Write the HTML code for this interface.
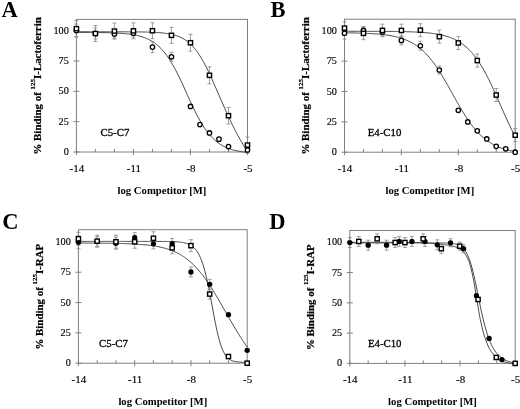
<!DOCTYPE html>
<html><head><meta charset="utf-8"><style>
html,body{margin:0;padding:0;background:#fff;}
body{width:520px;height:409px;overflow:hidden;}
svg{display:block;filter:blur(0.3px);}
.t{font-family:"Liberation Serif",serif;font-size:11px;fill:#000;stroke:#000;stroke-width:0.15px;}
.s{font-family:"Liberation Serif",serif;font-size:10.8px;fill:#000;stroke:#000;stroke-width:0.3px;}
.b{font-family:"Liberation Serif",serif;font-size:10.7px;font-weight:bold;fill:#000;}
.yt{font-family:"Liberation Serif",serif;font-size:10.9px;font-weight:bold;fill:#000;stroke:#000;stroke-width:0.2px;}
.sup{font-size:7px;}
.L{font-family:"Liberation Serif",serif;font-size:22.5px;font-weight:bold;fill:#000;}
</style></head><body>
<svg width="520" height="409" viewBox="0 0 520 409">
<rect width="520" height="409" fill="#fff"/>
<rect x="76.40" y="19.40" width="171.10" height="132.60" fill="none" stroke="#808080" stroke-width="1"/>
<line x1="73.40" x2="79.40" y1="152.00" y2="152.00" stroke="#808080" stroke-width="1"/>
<text transform="translate(68.80,155.00) scale(0.93,1)" text-anchor="end" class="t">0</text>
<line x1="73.40" x2="79.40" y1="121.65" y2="121.65" stroke="#808080" stroke-width="1"/>
<text transform="translate(68.80,124.65) scale(0.93,1)" text-anchor="end" class="t">25</text>
<line x1="73.40" x2="79.40" y1="91.30" y2="91.30" stroke="#808080" stroke-width="1"/>
<text transform="translate(68.80,94.30) scale(0.93,1)" text-anchor="end" class="t">50</text>
<line x1="73.40" x2="79.40" y1="60.95" y2="60.95" stroke="#808080" stroke-width="1"/>
<text transform="translate(68.80,63.95) scale(0.93,1)" text-anchor="end" class="t">75</text>
<line x1="73.40" x2="79.40" y1="30.60" y2="30.60" stroke="#808080" stroke-width="1"/>
<text transform="translate(68.80,33.60) scale(0.93,1)" text-anchor="end" class="t">100</text>
<line x1="76.40" x2="76.40" y1="149.00" y2="155.00" stroke="#808080" stroke-width="1"/>
<text x="76.90" y="171.50" text-anchor="middle" class="t">-14</text>
<line x1="95.41" x2="95.41" y1="149.00" y2="152.00" stroke="#808080" stroke-width="1"/>
<line x1="114.42" x2="114.42" y1="149.00" y2="152.00" stroke="#808080" stroke-width="1"/>
<line x1="133.43" x2="133.43" y1="149.00" y2="155.00" stroke="#808080" stroke-width="1"/>
<text x="133.93" y="171.50" text-anchor="middle" class="t">-11</text>
<line x1="152.44" x2="152.44" y1="149.00" y2="152.00" stroke="#808080" stroke-width="1"/>
<line x1="171.46" x2="171.46" y1="149.00" y2="152.00" stroke="#808080" stroke-width="1"/>
<line x1="190.47" x2="190.47" y1="149.00" y2="155.00" stroke="#808080" stroke-width="1"/>
<text x="190.97" y="171.50" text-anchor="middle" class="t">-8</text>
<line x1="209.48" x2="209.48" y1="149.00" y2="152.00" stroke="#808080" stroke-width="1"/>
<line x1="228.49" x2="228.49" y1="149.00" y2="152.00" stroke="#808080" stroke-width="1"/>
<line x1="247.50" x2="247.50" y1="149.00" y2="155.00" stroke="#808080" stroke-width="1"/>
<text x="248.00" y="171.50" text-anchor="middle" class="t">-5</text>
<polyline points="76.40,32.37 77.35,32.37 78.30,32.37 79.25,32.37 80.20,32.38 81.15,32.38 82.10,32.39 83.05,32.39 84.00,32.39 84.95,32.40 85.91,32.40 86.86,32.41 87.81,32.42 88.76,32.42 89.71,32.43 90.66,32.44 91.61,32.44 92.56,32.45 93.51,32.46 94.46,32.47 95.41,32.48 96.36,32.49 97.31,32.50 98.26,32.52 99.21,32.53 100.16,32.55 101.11,32.56 102.06,32.58 103.02,32.60 103.97,32.62 104.92,32.64 105.87,32.66 106.82,32.68 107.77,32.71 108.72,32.74 109.67,32.76 110.62,32.80 111.57,32.83 112.52,32.87 113.47,32.90 114.42,32.95 115.37,32.99 116.32,33.04 117.27,33.09 118.22,33.14 119.18,33.20 120.13,33.26 121.08,33.33 122.03,33.40 122.98,33.48 123.93,33.56 124.88,33.65 125.83,33.74 126.78,33.84 127.73,33.95 128.68,34.07 129.63,34.19 130.58,34.32 131.53,34.46 132.48,34.61 133.43,34.77 134.38,34.95 135.33,35.13 136.29,35.33 137.24,35.54 138.19,35.76 139.14,36.00 140.09,36.26 141.04,36.53 141.99,36.82 142.94,37.13 143.89,37.46 144.84,37.82 145.79,38.19 146.74,38.59 147.69,39.02 148.64,39.47 149.59,39.96 150.54,40.47 151.49,41.01 152.44,41.59 153.40,42.20 154.35,42.85 155.30,43.54 156.25,44.27 157.20,45.04 158.15,45.85 159.10,46.71 160.05,47.61 161.00,48.56 161.95,49.57 162.90,50.62 163.85,51.73 164.80,52.89 165.75,54.10 166.70,55.37 167.65,56.70 168.60,58.08 169.55,59.52 170.50,61.01 171.46,62.56 172.41,64.17 173.36,65.83 174.31,67.54 175.26,69.30 176.21,71.11 177.16,72.97 178.11,74.87 179.06,76.81 180.01,78.79 180.96,80.80 181.91,82.84 182.86,84.90 183.81,86.98 184.76,89.08 185.71,91.18 186.66,93.29 187.62,95.40 188.57,97.51 189.52,99.60 190.47,101.68 191.42,103.74 192.37,105.77 193.32,107.77 194.27,109.74 195.22,111.67 196.17,113.57 197.12,115.41 198.07,117.21 199.02,118.97 199.97,120.67 200.92,122.32 201.87,123.91 202.82,125.45 203.77,126.93 204.72,128.36 205.68,129.73 206.63,131.04 207.58,132.30 208.53,133.50 209.48,134.65 210.43,135.75 211.38,136.79 212.33,137.78 213.28,138.72 214.23,139.62 215.18,140.47 216.13,141.27 217.08,142.03 218.03,142.75 218.98,143.43 219.93,144.07 220.88,144.67 221.84,145.24 222.79,145.78 223.74,146.29 224.69,146.76 225.64,147.21 226.59,147.63 227.54,148.03 228.49,148.40 229.44,148.75 230.39,149.07 231.34,149.38 232.29,149.67 233.24,149.94 234.19,150.19 235.14,150.43 236.09,150.65 237.04,150.85 237.99,151.05 238.94,151.23 239.90,151.40 240.85,151.56 241.80,151.71 242.75,151.85 243.70,151.98 244.65,152.10 245.60,152.21 246.55,152.32 247.50,152.42" fill="none" stroke="#333" stroke-width="0.9"/>
<polyline points="76.40,31.78 77.35,31.78 78.30,31.78 79.25,31.78 80.20,31.78 81.15,31.78 82.10,31.78 83.05,31.78 84.00,31.78 84.95,31.78 85.91,31.78 86.86,31.78 87.81,31.78 88.76,31.78 89.71,31.78 90.66,31.78 91.61,31.78 92.56,31.78 93.51,31.78 94.46,31.78 95.41,31.78 96.36,31.78 97.31,31.78 98.26,31.78 99.21,31.78 100.16,31.78 101.11,31.78 102.06,31.78 103.02,31.78 103.97,31.79 104.92,31.79 105.87,31.79 106.82,31.79 107.77,31.79 108.72,31.79 109.67,31.79 110.62,31.79 111.57,31.79 112.52,31.79 113.47,31.79 114.42,31.79 115.37,31.80 116.32,31.80 117.27,31.80 118.22,31.80 119.18,31.80 120.13,31.81 121.08,31.81 122.03,31.81 122.98,31.81 123.93,31.82 124.88,31.82 125.83,31.82 126.78,31.83 127.73,31.83 128.68,31.84 129.63,31.84 130.58,31.85 131.53,31.85 132.48,31.86 133.43,31.87 134.38,31.87 135.33,31.88 136.29,31.89 137.24,31.90 138.19,31.91 139.14,31.92 140.09,31.94 141.04,31.95 141.99,31.97 142.94,31.98 143.89,32.00 144.84,32.02 145.79,32.04 146.74,32.06 147.69,32.09 148.64,32.12 149.59,32.15 150.54,32.18 151.49,32.21 152.44,32.25 153.40,32.30 154.35,32.34 155.30,32.39 156.25,32.44 157.20,32.50 158.15,32.57 159.10,32.64 160.05,32.71 161.00,32.79 161.95,32.88 162.90,32.98 163.85,33.09 164.80,33.20 165.75,33.32 166.70,33.46 167.65,33.60 168.60,33.76 169.55,33.93 170.50,34.12 171.46,34.32 172.41,34.54 173.36,34.78 174.31,35.03 175.26,35.31 176.21,35.61 177.16,35.94 178.11,36.28 179.06,36.66 180.01,37.07 180.96,37.51 181.91,37.98 182.86,38.48 183.81,39.03 184.76,39.61 185.71,40.23 186.66,40.90 187.62,41.62 188.57,42.38 189.52,43.20 190.47,44.07 191.42,44.99 192.37,45.96 193.32,47.00 194.27,48.09 195.22,49.25 196.17,50.47 197.12,51.75 198.07,53.09 199.02,54.49 199.97,55.96 200.92,57.49 201.87,59.08 202.82,60.73 203.77,62.44 204.72,64.20 205.68,66.02 206.63,67.89 207.58,69.81 208.53,71.77 209.48,73.77 210.43,75.81 211.38,77.88 212.33,79.98 213.28,82.11 214.23,84.26 215.18,86.43 216.13,88.61 217.08,90.80 218.03,93.00 218.98,95.20 219.93,97.39 220.88,99.59 221.84,101.77 222.79,103.95 223.74,106.11 224.69,108.25 225.64,110.38 226.59,112.49 227.54,114.57 228.49,116.64 229.44,118.67 230.39,120.68 231.34,122.66 232.29,124.61 233.24,126.54 234.19,128.43 235.14,130.29 236.09,132.12 237.04,133.92 237.99,135.68 238.94,137.41 239.90,139.11 240.85,140.78 241.80,142.42 242.75,144.02 243.70,145.59 244.65,147.13 245.60,148.64 246.55,150.11 247.50,151.56" fill="none" stroke="#333" stroke-width="0.9"/>
<path d="M76.40 24.10V37.10M74.40 24.10h4M74.40 37.10h4" stroke="#888" stroke-width="0.8" fill="none"/>
<path d="M95.41 28.01V39.01M93.41 28.01h4M93.41 39.01h4" stroke="#888" stroke-width="0.8" fill="none"/>
<path d="M114.42 30.00V38.00M112.42 30.00h4M112.42 38.00h4" stroke="#888" stroke-width="0.8" fill="none"/>
<path d="M133.43 29.15V37.15M131.43 29.15h4M131.43 37.15h4" stroke="#888" stroke-width="0.8" fill="none"/>
<path d="M152.44 41.61V52.61M150.44 41.61h4M150.44 52.61h4" stroke="#888" stroke-width="0.8" fill="none"/>
<path d="M171.46 52.32V61.32M169.46 52.32h4M169.46 61.32h4" stroke="#888" stroke-width="0.8" fill="none"/>
<path d="M76.40 20.66V36.66M74.40 20.66h4M74.40 36.66h4" stroke="#888" stroke-width="0.8" fill="none"/>
<path d="M95.41 25.51V41.51M93.41 25.51h4M93.41 41.51h4" stroke="#888" stroke-width="0.8" fill="none"/>
<path d="M114.42 23.09V39.09M112.42 23.09h4M112.42 39.09h4" stroke="#888" stroke-width="0.8" fill="none"/>
<path d="M133.43 22.84V38.84M131.43 22.84h4M131.43 38.84h4" stroke="#888" stroke-width="0.8" fill="none"/>
<path d="M152.44 22.72V38.72M150.44 22.72h4M150.44 38.72h4" stroke="#888" stroke-width="0.8" fill="none"/>
<path d="M171.46 27.33V43.33M169.46 27.33h4M169.46 43.33h4" stroke="#888" stroke-width="0.8" fill="none"/>
<path d="M190.47 34.24V51.24M188.47 34.24h4M188.47 51.24h4" stroke="#888" stroke-width="0.8" fill="none"/>
<path d="M209.48 66.78V83.78M207.48 66.78h4M207.48 83.78h4" stroke="#888" stroke-width="0.8" fill="none"/>
<path d="M228.49 107.40V124.00M226.49 107.40h4M226.49 124.00h4" stroke="#888" stroke-width="0.8" fill="none"/>
<path d="M247.50 137.08V153.08M245.50 137.08h4M245.50 153.08h4" stroke="#888" stroke-width="0.8" fill="none"/>
<circle cx="76.40" cy="30.60" r="2.2" fill="#fff" stroke="#000" stroke-width="1.3"/>
<circle cx="95.41" cy="33.51" r="2.2" fill="#fff" stroke="#000" stroke-width="1.3"/>
<circle cx="114.42" cy="34.00" r="2.2" fill="#fff" stroke="#000" stroke-width="1.3"/>
<circle cx="133.43" cy="33.15" r="2.2" fill="#fff" stroke="#000" stroke-width="1.3"/>
<circle cx="152.44" cy="47.11" r="2.2" fill="#fff" stroke="#000" stroke-width="1.3"/>
<circle cx="171.46" cy="56.82" r="2.2" fill="#fff" stroke="#000" stroke-width="1.3"/>
<circle cx="190.47" cy="106.47" r="2.2" fill="#fff" stroke="#000" stroke-width="1.3"/>
<circle cx="199.97" cy="124.56" r="2.2" fill="#fff" stroke="#000" stroke-width="1.3"/>
<circle cx="209.48" cy="132.94" r="2.2" fill="#fff" stroke="#000" stroke-width="1.3"/>
<circle cx="218.98" cy="139.13" r="2.2" fill="#fff" stroke="#000" stroke-width="1.3"/>
<circle cx="228.49" cy="146.54" r="2.2" fill="#fff" stroke="#000" stroke-width="1.3"/>
<circle cx="247.50" cy="149.94" r="2.2" fill="#fff" stroke="#000" stroke-width="1.3"/>
<rect x="74.30" y="26.56" width="4.2" height="4.2" fill="#fff" stroke="#000" stroke-width="1.4"/>
<rect x="93.31" y="31.41" width="4.2" height="4.2" fill="#fff" stroke="#000" stroke-width="1.4"/>
<rect x="112.32" y="28.99" width="4.2" height="4.2" fill="#fff" stroke="#000" stroke-width="1.4"/>
<rect x="131.33" y="28.74" width="4.2" height="4.2" fill="#fff" stroke="#000" stroke-width="1.4"/>
<rect x="150.34" y="28.62" width="4.2" height="4.2" fill="#fff" stroke="#000" stroke-width="1.4"/>
<rect x="169.36" y="33.23" width="4.2" height="4.2" fill="#fff" stroke="#000" stroke-width="1.4"/>
<rect x="188.37" y="40.64" width="4.2" height="4.2" fill="#fff" stroke="#000" stroke-width="1.4"/>
<rect x="207.38" y="73.18" width="4.2" height="4.2" fill="#fff" stroke="#000" stroke-width="1.4"/>
<rect x="226.39" y="113.60" width="4.2" height="4.2" fill="#fff" stroke="#000" stroke-width="1.4"/>
<rect x="245.40" y="142.98" width="4.2" height="4.2" fill="#fff" stroke="#000" stroke-width="1.4"/>
<text x="1.50" y="16.80" class="L">A</text>
<text x="100.50" y="136.20" class="s">C5-C7</text>
<text x="161.95" y="194.00" text-anchor="middle" class="b">log Competitor [M]</text>
<text transform="translate(41.00,85.90) rotate(-90)" text-anchor="middle" class="yt">% Binding of <tspan class="sup" dy="-6.5">125</tspan><tspan dy="6.5">I-Lactoferrin</tspan></text>
<rect x="344.50" y="19.20" width="170.70" height="133.00" fill="none" stroke="#808080" stroke-width="1"/>
<line x1="341.50" x2="347.50" y1="152.20" y2="152.20" stroke="#808080" stroke-width="1"/>
<text transform="translate(336.90,155.20) scale(0.93,1)" text-anchor="end" class="t">0</text>
<line x1="341.50" x2="347.50" y1="121.85" y2="121.85" stroke="#808080" stroke-width="1"/>
<text transform="translate(336.90,124.85) scale(0.93,1)" text-anchor="end" class="t">25</text>
<line x1="341.50" x2="347.50" y1="91.50" y2="91.50" stroke="#808080" stroke-width="1"/>
<text transform="translate(336.90,94.50) scale(0.93,1)" text-anchor="end" class="t">50</text>
<line x1="341.50" x2="347.50" y1="61.15" y2="61.15" stroke="#808080" stroke-width="1"/>
<text transform="translate(336.90,64.15) scale(0.93,1)" text-anchor="end" class="t">75</text>
<line x1="341.50" x2="347.50" y1="30.80" y2="30.80" stroke="#808080" stroke-width="1"/>
<text transform="translate(336.90,33.80) scale(0.93,1)" text-anchor="end" class="t">100</text>
<line x1="344.50" x2="344.50" y1="149.20" y2="155.20" stroke="#808080" stroke-width="1"/>
<text x="345.00" y="171.70" text-anchor="middle" class="t">-14</text>
<line x1="363.47" x2="363.47" y1="149.20" y2="152.20" stroke="#808080" stroke-width="1"/>
<line x1="382.43" x2="382.43" y1="149.20" y2="152.20" stroke="#808080" stroke-width="1"/>
<line x1="401.40" x2="401.40" y1="149.20" y2="155.20" stroke="#808080" stroke-width="1"/>
<text x="401.90" y="171.70" text-anchor="middle" class="t">-11</text>
<line x1="420.37" x2="420.37" y1="149.20" y2="152.20" stroke="#808080" stroke-width="1"/>
<line x1="439.33" x2="439.33" y1="149.20" y2="152.20" stroke="#808080" stroke-width="1"/>
<line x1="458.30" x2="458.30" y1="149.20" y2="155.20" stroke="#808080" stroke-width="1"/>
<text x="458.80" y="171.70" text-anchor="middle" class="t">-8</text>
<line x1="477.27" x2="477.27" y1="149.20" y2="152.20" stroke="#808080" stroke-width="1"/>
<line x1="496.23" x2="496.23" y1="149.20" y2="152.20" stroke="#808080" stroke-width="1"/>
<line x1="515.20" x2="515.20" y1="149.20" y2="155.20" stroke="#808080" stroke-width="1"/>
<text x="515.70" y="171.70" text-anchor="middle" class="t">-5</text>
<polyline points="344.50,32.81 345.45,32.82 346.40,32.83 347.35,32.84 348.29,32.86 349.24,32.87 350.19,32.89 351.14,32.90 352.09,32.92 353.03,32.94 353.98,32.96 354.93,32.98 355.88,33.00 356.83,33.03 357.78,33.05 358.73,33.08 359.67,33.10 360.62,33.13 361.57,33.16 362.52,33.20 363.47,33.23 364.42,33.27 365.36,33.30 366.31,33.34 367.26,33.39 368.21,33.43 369.16,33.48 370.11,33.53 371.05,33.58 372.00,33.64 372.95,33.70 373.90,33.76 374.85,33.83 375.80,33.90 376.74,33.97 377.69,34.05 378.64,34.14 379.59,34.22 380.54,34.31 381.49,34.41 382.43,34.52 383.38,34.62 384.33,34.74 385.28,34.86 386.23,34.99 387.18,35.12 388.12,35.27 389.07,35.42 390.02,35.57 390.97,35.74 391.92,35.92 392.87,36.11 393.81,36.30 394.76,36.51 395.71,36.73 396.66,36.96 397.61,37.20 398.56,37.45 399.50,37.72 400.45,38.00 401.40,38.30 402.35,38.61 403.30,38.94 404.25,39.29 405.19,39.65 406.14,40.04 407.09,40.44 408.04,40.86 408.99,41.30 409.94,41.77 410.88,42.26 411.83,42.77 412.78,43.30 413.73,43.86 414.68,44.45 415.62,45.07 416.57,45.71 417.52,46.38 418.47,47.08 419.42,47.81 420.37,48.58 421.32,49.37 422.26,50.20 423.21,51.06 424.16,51.96 425.11,52.89 426.06,53.86 427.01,54.86 427.95,55.90 428.90,56.98 429.85,58.09 430.80,59.24 431.75,60.43 432.70,61.65 433.64,62.91 434.59,64.21 435.54,65.54 436.49,66.91 437.44,68.31 438.38,69.74 439.33,71.21 440.28,72.70 441.23,74.23 442.18,75.78 443.13,77.36 444.08,78.96 445.02,80.58 445.97,82.22 446.92,83.88 447.87,85.55 448.82,87.24 449.77,88.94 450.71,90.64 451.66,92.35 452.61,94.06 453.56,95.76 454.51,97.47 455.46,99.17 456.40,100.86 457.35,102.54 458.30,104.20 459.25,105.85 460.20,107.48 461.15,109.08 462.09,110.67 463.04,112.23 463.99,113.76 464.94,115.27 465.89,116.74 466.84,118.19 467.78,119.60 468.73,120.98 469.68,122.32 470.63,123.63 471.58,124.90 472.53,126.13 473.47,127.33 474.42,128.50 475.37,129.62 476.32,130.71 477.27,131.76 478.22,132.78 479.16,133.76 480.11,134.70 481.06,135.61 482.01,136.48 482.96,137.32 483.91,138.13 484.85,138.90 485.80,139.64 486.75,140.35 487.70,141.03 488.65,141.69 489.60,142.31 490.54,142.91 491.49,143.48 492.44,144.02 493.39,144.54 494.34,145.03 495.29,145.51 496.23,145.96 497.18,146.38 498.13,146.79 499.08,147.18 500.03,147.55 500.98,147.90 501.92,148.24 502.87,148.56 503.82,148.86 504.77,149.15 505.72,149.42 506.67,149.68 507.61,149.92 508.56,150.16 509.51,150.38 510.46,150.59 511.41,150.79 512.36,150.98 513.30,151.16 514.25,151.33 515.20,151.49" fill="none" stroke="#333" stroke-width="0.9"/>
<polyline points="344.50,31.28 345.45,31.29 346.40,31.29 347.35,31.29 348.29,31.29 349.24,31.29 350.19,31.29 351.14,31.29 352.09,31.29 353.03,31.29 353.98,31.29 354.93,31.29 355.88,31.29 356.83,31.30 357.78,31.30 358.73,31.30 359.67,31.30 360.62,31.30 361.57,31.30 362.52,31.30 363.47,31.31 364.42,31.31 365.36,31.31 366.31,31.31 367.26,31.31 368.21,31.32 369.16,31.32 370.11,31.32 371.05,31.32 372.00,31.33 372.95,31.33 373.90,31.33 374.85,31.34 375.80,31.34 376.74,31.34 377.69,31.35 378.64,31.35 379.59,31.36 380.54,31.36 381.49,31.37 382.43,31.37 383.38,31.38 384.33,31.38 385.28,31.39 386.23,31.40 387.18,31.41 388.12,31.41 389.07,31.42 390.02,31.43 390.97,31.44 391.92,31.45 392.87,31.46 393.81,31.47 394.76,31.48 395.71,31.50 396.66,31.51 397.61,31.52 398.56,31.54 399.50,31.56 400.45,31.57 401.40,31.59 402.35,31.61 403.30,31.63 404.25,31.65 405.19,31.67 406.14,31.70 407.09,31.72 408.04,31.75 408.99,31.78 409.94,31.81 410.88,31.84 411.83,31.88 412.78,31.91 413.73,31.95 414.68,31.99 415.62,32.04 416.57,32.08 417.52,32.13 418.47,32.18 419.42,32.24 420.37,32.30 421.32,32.36 422.26,32.42 423.21,32.49 424.16,32.56 425.11,32.64 426.06,32.72 427.01,32.81 427.95,32.90 428.90,33.00 429.85,33.10 430.80,33.21 431.75,33.33 432.70,33.45 433.64,33.58 434.59,33.72 435.54,33.86 436.49,34.02 437.44,34.18 438.38,34.35 439.33,34.54 440.28,34.73 441.23,34.94 442.18,35.15 443.13,35.38 444.08,35.62 445.02,35.88 445.97,36.15 446.92,36.43 447.87,36.73 448.82,37.05 449.77,37.39 450.71,37.74 451.66,38.12 452.61,38.51 453.56,38.93 454.51,39.37 455.46,39.83 456.40,40.31 457.35,40.83 458.30,41.37 459.25,41.94 460.20,42.53 461.15,43.16 462.09,43.82 463.04,44.51 463.99,45.24 464.94,46.00 465.89,46.80 466.84,47.64 467.78,48.51 468.73,49.43 469.68,50.39 470.63,51.39 471.58,52.43 472.53,53.52 473.47,54.66 474.42,55.84 475.37,57.07 476.32,58.34 477.27,59.67 478.22,61.04 479.16,62.46 480.11,63.93 481.06,65.45 482.01,67.02 482.96,68.64 483.91,70.30 484.85,72.01 485.80,73.77 486.75,75.57 487.70,77.41 488.65,79.29 489.60,81.22 490.54,83.18 491.49,85.17 492.44,87.19 493.39,89.24 494.34,91.32 495.29,93.42 496.23,95.54 497.18,97.68 498.13,99.82 499.08,101.98 500.03,104.14 500.98,106.30 501.92,108.46 502.87,110.61 503.82,112.75 504.77,114.88 505.72,116.98 506.67,119.07 507.61,121.14 508.56,123.18 509.51,125.18 510.46,127.16 511.41,129.10 512.36,131.00 513.30,132.86 514.25,134.68 515.20,136.46" fill="none" stroke="#333" stroke-width="0.9"/>
<path d="M344.50 27.23V39.23M342.50 27.23h4M342.50 39.23h4" stroke="#888" stroke-width="0.8" fill="none"/>
<path d="M363.47 26.44V34.44M361.47 26.44h4M361.47 34.44h4" stroke="#888" stroke-width="0.8" fill="none"/>
<path d="M382.43 27.89V35.89M380.43 27.89h4M380.43 35.89h4" stroke="#888" stroke-width="0.8" fill="none"/>
<path d="M401.40 35.89V44.89M399.40 35.89h4M399.40 44.89h4" stroke="#888" stroke-width="0.8" fill="none"/>
<path d="M420.37 41.23V50.23M418.37 41.23h4M418.37 50.23h4" stroke="#888" stroke-width="0.8" fill="none"/>
<path d="M439.33 66.01V74.01M437.33 66.01h4M437.33 74.01h4" stroke="#888" stroke-width="0.8" fill="none"/>
<path d="M344.50 21.93V34.33M342.50 21.93h4M342.50 34.33h4" stroke="#888" stroke-width="0.8" fill="none"/>
<path d="M363.47 27.05V39.65M361.47 27.05h4M361.47 39.65h4" stroke="#888" stroke-width="0.8" fill="none"/>
<path d="M382.43 24.14V36.74M380.43 24.14h4M380.43 36.74h4" stroke="#888" stroke-width="0.8" fill="none"/>
<path d="M401.40 24.14V36.74M399.40 24.14h4M399.40 36.74h4" stroke="#888" stroke-width="0.8" fill="none"/>
<path d="M420.37 23.69V36.69M418.37 23.69h4M418.37 36.69h4" stroke="#888" stroke-width="0.8" fill="none"/>
<path d="M439.33 30.13V43.13M437.33 30.13h4M437.33 43.13h4" stroke="#888" stroke-width="0.8" fill="none"/>
<path d="M458.30 36.44V49.44M456.30 36.44h4M456.30 49.44h4" stroke="#888" stroke-width="0.8" fill="none"/>
<path d="M477.27 54.04V67.04M475.27 54.04h4M475.27 67.04h4" stroke="#888" stroke-width="0.8" fill="none"/>
<path d="M496.23 88.52V101.52M494.23 88.52h4M494.23 101.52h4" stroke="#888" stroke-width="0.8" fill="none"/>
<path d="M515.20 128.70V141.70M513.20 128.70h4M513.20 141.70h4" stroke="#888" stroke-width="0.8" fill="none"/>
<circle cx="344.50" cy="33.23" r="2.2" fill="#fff" stroke="#000" stroke-width="1.3"/>
<circle cx="363.47" cy="30.44" r="2.2" fill="#fff" stroke="#000" stroke-width="1.3"/>
<circle cx="382.43" cy="31.89" r="2.2" fill="#fff" stroke="#000" stroke-width="1.3"/>
<circle cx="401.40" cy="40.39" r="2.2" fill="#fff" stroke="#000" stroke-width="1.3"/>
<circle cx="420.37" cy="45.73" r="2.2" fill="#fff" stroke="#000" stroke-width="1.3"/>
<circle cx="439.33" cy="70.01" r="2.2" fill="#fff" stroke="#000" stroke-width="1.3"/>
<circle cx="458.30" cy="110.32" r="2.2" fill="#fff" stroke="#000" stroke-width="1.3"/>
<circle cx="467.78" cy="121.97" r="2.2" fill="#fff" stroke="#000" stroke-width="1.3"/>
<circle cx="477.27" cy="130.83" r="2.2" fill="#fff" stroke="#000" stroke-width="1.3"/>
<circle cx="486.75" cy="138.97" r="2.2" fill="#fff" stroke="#000" stroke-width="1.3"/>
<circle cx="496.23" cy="146.37" r="2.2" fill="#fff" stroke="#000" stroke-width="1.3"/>
<circle cx="505.72" cy="148.80" r="2.2" fill="#fff" stroke="#000" stroke-width="1.3"/>
<circle cx="515.20" cy="152.20" r="2.2" fill="#fff" stroke="#000" stroke-width="1.3"/>
<rect x="342.40" y="26.03" width="4.2" height="4.2" fill="#fff" stroke="#000" stroke-width="1.4"/>
<rect x="361.37" y="31.25" width="4.2" height="4.2" fill="#fff" stroke="#000" stroke-width="1.4"/>
<rect x="380.33" y="28.34" width="4.2" height="4.2" fill="#fff" stroke="#000" stroke-width="1.4"/>
<rect x="399.30" y="28.34" width="4.2" height="4.2" fill="#fff" stroke="#000" stroke-width="1.4"/>
<rect x="418.27" y="28.09" width="4.2" height="4.2" fill="#fff" stroke="#000" stroke-width="1.4"/>
<rect x="437.23" y="34.53" width="4.2" height="4.2" fill="#fff" stroke="#000" stroke-width="1.4"/>
<rect x="456.20" y="40.84" width="4.2" height="4.2" fill="#fff" stroke="#000" stroke-width="1.4"/>
<rect x="475.17" y="58.44" width="4.2" height="4.2" fill="#fff" stroke="#000" stroke-width="1.4"/>
<rect x="494.13" y="92.92" width="4.2" height="4.2" fill="#fff" stroke="#000" stroke-width="1.4"/>
<rect x="513.10" y="133.10" width="4.2" height="4.2" fill="#fff" stroke="#000" stroke-width="1.4"/>
<text x="270.40" y="16.80" class="L">B</text>
<text x="367.70" y="136.30" class="s">E4-C10</text>
<text x="429.85" y="194.20" text-anchor="middle" class="b">log Competitor [M]</text>
<text transform="translate(309.10,85.90) rotate(-90)" text-anchor="middle" class="yt">% Binding of <tspan class="sup" dy="-6.5">125</tspan><tspan dy="6.5">I-Lactoferrin</tspan></text>
<rect x="78.40" y="229.70" width="168.80" height="133.50" fill="none" stroke="#808080" stroke-width="1"/>
<line x1="75.40" x2="81.40" y1="363.20" y2="363.20" stroke="#808080" stroke-width="1"/>
<text transform="translate(70.80,366.20) scale(0.93,1)" text-anchor="end" class="t">0</text>
<line x1="75.40" x2="81.40" y1="332.88" y2="332.88" stroke="#808080" stroke-width="1"/>
<text transform="translate(70.80,335.88) scale(0.93,1)" text-anchor="end" class="t">25</text>
<line x1="75.40" x2="81.40" y1="302.55" y2="302.55" stroke="#808080" stroke-width="1"/>
<text transform="translate(70.80,305.55) scale(0.93,1)" text-anchor="end" class="t">50</text>
<line x1="75.40" x2="81.40" y1="272.22" y2="272.22" stroke="#808080" stroke-width="1"/>
<text transform="translate(70.80,275.22) scale(0.93,1)" text-anchor="end" class="t">75</text>
<line x1="75.40" x2="81.40" y1="241.90" y2="241.90" stroke="#808080" stroke-width="1"/>
<text transform="translate(70.80,244.90) scale(0.93,1)" text-anchor="end" class="t">100</text>
<line x1="78.40" x2="78.40" y1="360.20" y2="366.20" stroke="#808080" stroke-width="1"/>
<text x="78.90" y="382.70" text-anchor="middle" class="t">-14</text>
<line x1="97.16" x2="97.16" y1="360.20" y2="363.20" stroke="#808080" stroke-width="1"/>
<line x1="115.91" x2="115.91" y1="360.20" y2="363.20" stroke="#808080" stroke-width="1"/>
<line x1="134.67" x2="134.67" y1="360.20" y2="366.20" stroke="#808080" stroke-width="1"/>
<text x="135.17" y="382.70" text-anchor="middle" class="t">-11</text>
<line x1="153.42" x2="153.42" y1="360.20" y2="363.20" stroke="#808080" stroke-width="1"/>
<line x1="172.18" x2="172.18" y1="360.20" y2="363.20" stroke="#808080" stroke-width="1"/>
<line x1="190.93" x2="190.93" y1="360.20" y2="366.20" stroke="#808080" stroke-width="1"/>
<text x="191.43" y="382.70" text-anchor="middle" class="t">-8</text>
<line x1="209.69" x2="209.69" y1="360.20" y2="363.20" stroke="#808080" stroke-width="1"/>
<line x1="228.44" x2="228.44" y1="360.20" y2="363.20" stroke="#808080" stroke-width="1"/>
<line x1="247.20" x2="247.20" y1="360.20" y2="366.20" stroke="#808080" stroke-width="1"/>
<text x="247.70" y="382.70" text-anchor="middle" class="t">-5</text>
<polyline points="78.40,243.07 79.34,243.07 80.28,243.08 81.21,243.08 82.15,243.08 83.09,243.08 84.03,243.09 84.96,243.09 85.90,243.09 86.84,243.10 87.78,243.10 88.72,243.10 89.65,243.11 90.59,243.11 91.53,243.12 92.47,243.12 93.40,243.13 94.34,243.13 95.28,243.14 96.22,243.15 97.16,243.15 98.09,243.16 99.03,243.17 99.97,243.17 100.91,243.18 101.84,243.19 102.78,243.20 103.72,243.21 104.66,243.22 105.60,243.23 106.53,243.24 107.47,243.25 108.41,243.26 109.35,243.27 110.28,243.29 111.22,243.30 112.16,243.32 113.10,243.33 114.04,243.35 114.97,243.36 115.91,243.38 116.85,243.40 117.79,243.42 118.72,243.44 119.66,243.46 120.60,243.49 121.54,243.51 122.48,243.54 123.41,243.57 124.35,243.59 125.29,243.63 126.23,243.66 127.16,243.69 128.10,243.73 129.04,243.76 129.98,243.80 130.92,243.84 131.85,243.89 132.79,243.93 133.73,243.98 134.67,244.03 135.60,244.09 136.54,244.14 137.48,244.20 138.42,244.26 139.36,244.33 140.29,244.40 141.23,244.47 142.17,244.55 143.11,244.63 144.04,244.71 144.98,244.80 145.92,244.90 146.86,244.99 147.80,245.10 148.73,245.21 149.67,245.32 150.61,245.44 151.55,245.57 152.48,245.70 153.42,245.84 154.36,245.99 155.30,246.14 156.24,246.30 157.17,246.47 158.11,246.65 159.05,246.84 159.99,247.04 160.92,247.25 161.86,247.46 162.80,247.69 163.74,247.93 164.68,248.18 165.61,248.44 166.55,248.72 167.49,249.01 168.43,249.31 169.36,249.63 170.30,249.96 171.24,250.31 172.18,250.67 173.12,251.06 174.05,251.45 174.99,251.87 175.93,252.31 176.87,252.76 177.80,253.24 178.74,253.73 179.68,254.25 180.62,254.79 181.56,255.35 182.49,255.94 183.43,256.55 184.37,257.18 185.31,257.84 186.24,258.53 187.18,259.24 188.12,259.98 189.06,260.75 190.00,261.55 190.93,262.37 191.87,263.23 192.81,264.11 193.75,265.03 194.68,265.97 195.62,266.95 196.56,267.95 197.50,268.99 198.44,270.06 199.37,271.16 200.31,272.29 201.25,273.45 202.19,274.65 203.12,275.87 204.06,277.12 205.00,278.40 205.94,279.71 206.88,281.05 207.81,282.41 208.75,283.81 209.69,285.22 210.63,286.66 211.56,288.13 212.50,289.62 213.44,291.12 214.38,292.65 215.32,294.20 216.25,295.76 217.19,297.33 218.13,298.93 219.07,300.53 220.00,302.14 220.94,303.77 221.88,305.40 222.82,307.04 223.76,308.68 224.69,310.32 225.63,311.97 226.57,313.61 227.51,315.25 228.44,316.89 229.38,318.53 230.32,320.16 231.26,321.78 232.20,323.39 233.13,324.99 234.07,326.58 235.01,328.16 235.95,329.72 236.88,331.27 237.82,332.80 238.76,334.32 239.70,335.82 240.64,337.30 241.57,338.76 242.51,340.20 243.45,341.62 244.39,343.03 245.32,344.41 246.26,345.76 247.20,347.10" fill="none" stroke="#333" stroke-width="0.9"/>
<polyline points="78.40,241.40 79.34,241.40 80.28,241.40 81.21,241.40 82.15,241.40 83.09,241.40 84.03,241.40 84.96,241.40 85.90,241.40 86.84,241.40 87.78,241.40 88.72,241.40 89.65,241.40 90.59,241.40 91.53,241.40 92.47,241.40 93.40,241.40 94.34,241.40 95.28,241.40 96.22,241.40 97.16,241.40 98.09,241.40 99.03,241.40 99.97,241.40 100.91,241.40 101.84,241.40 102.78,241.40 103.72,241.40 104.66,241.40 105.60,241.40 106.53,241.40 107.47,241.40 108.41,241.40 109.35,241.40 110.28,241.40 111.22,241.40 112.16,241.40 113.10,241.40 114.04,241.40 114.97,241.40 115.91,241.40 116.85,241.40 117.79,241.40 118.72,241.40 119.66,241.40 120.60,241.40 121.54,241.40 122.48,241.40 123.41,241.40 124.35,241.40 125.29,241.40 126.23,241.40 127.16,241.40 128.10,241.40 129.04,241.40 129.98,241.40 130.92,241.40 131.85,241.40 132.79,241.40 133.73,241.40 134.67,241.40 135.60,241.40 136.54,241.40 137.48,241.40 138.42,241.40 139.36,241.40 140.29,241.40 141.23,241.40 142.17,241.40 143.11,241.41 144.04,241.41 144.98,241.41 145.92,241.41 146.86,241.41 147.80,241.41 148.73,241.41 149.67,241.41 150.61,241.41 151.55,241.41 152.48,241.41 153.42,241.41 154.36,241.41 155.30,241.42 156.24,241.42 157.17,241.42 158.11,241.42 159.05,241.43 159.99,241.43 160.92,241.44 161.86,241.44 162.80,241.45 163.74,241.45 164.68,241.46 165.61,241.47 166.55,241.48 167.49,241.50 168.43,241.51 169.36,241.53 170.30,241.55 171.24,241.57 172.18,241.60 173.12,241.63 174.05,241.67 174.99,241.71 175.93,241.76 176.87,241.82 177.80,241.89 178.74,241.97 179.68,242.06 180.62,242.17 181.56,242.29 182.49,242.43 183.43,242.60 184.37,242.79 185.31,243.01 186.24,243.27 187.18,243.57 188.12,243.91 189.06,244.31 190.00,244.77 190.93,245.30 191.87,245.92 192.81,246.62 193.75,247.44 194.68,248.37 195.62,249.44 196.56,250.66 197.50,252.05 198.44,253.63 199.37,255.42 200.31,257.44 201.25,259.70 202.19,262.24 203.12,265.06 204.06,268.17 205.00,271.59 205.94,275.31 206.88,279.32 207.81,283.61 208.75,288.14 209.69,292.90 210.63,297.81 211.56,302.84 212.50,307.90 213.44,312.95 214.38,317.90 215.32,322.69 216.25,327.26 217.19,331.56 218.13,335.56 219.07,339.22 220.00,342.53 220.94,345.48 221.88,348.10 222.82,350.38 223.76,352.35 224.69,354.05 225.63,355.49 226.57,356.70 227.51,357.72 228.44,358.57 229.38,359.28 230.32,359.86 231.26,360.34 232.20,360.73 233.13,361.05 234.07,361.30 235.01,361.52 235.95,361.69 236.88,361.82 237.82,361.93 238.76,362.02 239.70,362.10 240.64,362.15 241.57,362.20 242.51,362.24 243.45,362.27 244.39,362.29 245.32,362.31 246.26,362.33 247.20,362.34" fill="none" stroke="#333" stroke-width="0.9"/>
<path d="M78.40 235.76V248.76M76.40 235.76h4M76.40 248.76h4" stroke="#888" stroke-width="0.8" fill="none"/>
<path d="M97.16 236.54V246.54M95.16 236.54h4M95.16 246.54h4" stroke="#888" stroke-width="0.8" fill="none"/>
<path d="M115.91 237.23V249.23M113.91 237.23h4M113.91 249.23h4" stroke="#888" stroke-width="0.8" fill="none"/>
<path d="M134.67 232.65V242.65M132.67 232.65h4M132.67 242.65h4" stroke="#888" stroke-width="0.8" fill="none"/>
<path d="M153.42 238.84V248.84M151.42 238.84h4M151.42 248.84h4" stroke="#888" stroke-width="0.8" fill="none"/>
<path d="M172.18 238.60V248.60M170.18 238.60h4M170.18 248.60h4" stroke="#888" stroke-width="0.8" fill="none"/>
<path d="M190.93 266.98V276.98M188.93 266.98h4M188.93 276.98h4" stroke="#888" stroke-width="0.8" fill="none"/>
<path d="M209.69 279.36V289.36M207.69 279.36h4M207.69 289.36h4" stroke="#888" stroke-width="0.8" fill="none"/>
<path d="M78.40 232.25V245.25M76.40 232.25h4M76.40 245.25h4" stroke="#888" stroke-width="0.8" fill="none"/>
<path d="M97.16 235.17V247.17M95.16 235.17h4M95.16 247.17h4" stroke="#888" stroke-width="0.8" fill="none"/>
<path d="M115.91 235.28V248.28M113.91 235.28h4M113.91 248.28h4" stroke="#888" stroke-width="0.8" fill="none"/>
<path d="M134.67 235.28V248.28M132.67 235.28h4M132.67 248.28h4" stroke="#888" stroke-width="0.8" fill="none"/>
<path d="M153.42 231.76V244.76M151.42 231.76h4M151.42 244.76h4" stroke="#888" stroke-width="0.8" fill="none"/>
<path d="M172.18 241.84V253.84M170.18 241.84h4M170.18 253.84h4" stroke="#888" stroke-width="0.8" fill="none"/>
<path d="M190.93 239.66V251.66M188.93 239.66h4M188.93 251.66h4" stroke="#888" stroke-width="0.8" fill="none"/>
<path d="M209.69 289.06V299.06M207.69 289.06h4M207.69 299.06h4" stroke="#888" stroke-width="0.8" fill="none"/>
<circle cx="78.40" cy="242.26" r="2.65" fill="#000"/>
<circle cx="97.16" cy="241.54" r="2.65" fill="#000"/>
<circle cx="115.91" cy="243.23" r="2.65" fill="#000"/>
<circle cx="134.67" cy="237.65" r="2.65" fill="#000"/>
<circle cx="153.42" cy="243.84" r="2.65" fill="#000"/>
<circle cx="172.18" cy="243.60" r="2.65" fill="#000"/>
<circle cx="190.93" cy="271.98" r="2.65" fill="#000"/>
<circle cx="209.69" cy="284.36" r="2.65" fill="#000"/>
<circle cx="228.44" cy="314.68" r="2.65" fill="#000"/>
<circle cx="247.20" cy="350.34" r="2.65" fill="#000"/>
<rect x="76.30" y="236.65" width="4.2" height="4.2" fill="#fff" stroke="#000" stroke-width="1.4"/>
<rect x="95.06" y="239.07" width="4.2" height="4.2" fill="#fff" stroke="#000" stroke-width="1.4"/>
<rect x="113.81" y="239.68" width="4.2" height="4.2" fill="#fff" stroke="#000" stroke-width="1.4"/>
<rect x="132.57" y="239.68" width="4.2" height="4.2" fill="#fff" stroke="#000" stroke-width="1.4"/>
<rect x="151.32" y="236.16" width="4.2" height="4.2" fill="#fff" stroke="#000" stroke-width="1.4"/>
<rect x="170.08" y="245.74" width="4.2" height="4.2" fill="#fff" stroke="#000" stroke-width="1.4"/>
<rect x="188.83" y="243.56" width="4.2" height="4.2" fill="#fff" stroke="#000" stroke-width="1.4"/>
<rect x="207.59" y="291.96" width="4.2" height="4.2" fill="#fff" stroke="#000" stroke-width="1.4"/>
<rect x="226.34" y="354.43" width="4.2" height="4.2" fill="#fff" stroke="#000" stroke-width="1.4"/>
<rect x="245.10" y="361.10" width="4.2" height="4.2" fill="#fff" stroke="#000" stroke-width="1.4"/>
<text x="2.30" y="228.80" class="L">C</text>
<text x="99.10" y="347.30" class="s">C5-C7</text>
<text x="162.80" y="405.20" text-anchor="middle" class="b">log Competitor [M]</text>
<text transform="translate(43.00,296.65) rotate(-90)" text-anchor="middle" class="yt">% Binding of <tspan class="sup" dy="-6.5">125</tspan><tspan dy="6.5">I-RAP</tspan></text>
<rect x="349.80" y="230.50" width="165.40" height="132.90" fill="none" stroke="#808080" stroke-width="1"/>
<line x1="346.80" x2="352.80" y1="363.40" y2="363.40" stroke="#808080" stroke-width="1"/>
<text transform="translate(342.20,366.40) scale(0.93,1)" text-anchor="end" class="t">0</text>
<line x1="346.80" x2="352.80" y1="333.12" y2="333.12" stroke="#808080" stroke-width="1"/>
<text transform="translate(342.20,336.12) scale(0.93,1)" text-anchor="end" class="t">25</text>
<line x1="346.80" x2="352.80" y1="302.85" y2="302.85" stroke="#808080" stroke-width="1"/>
<text transform="translate(342.20,305.85) scale(0.93,1)" text-anchor="end" class="t">50</text>
<line x1="346.80" x2="352.80" y1="272.57" y2="272.57" stroke="#808080" stroke-width="1"/>
<text transform="translate(342.20,275.57) scale(0.93,1)" text-anchor="end" class="t">75</text>
<line x1="346.80" x2="352.80" y1="242.30" y2="242.30" stroke="#808080" stroke-width="1"/>
<text transform="translate(342.20,245.30) scale(0.93,1)" text-anchor="end" class="t">100</text>
<line x1="349.80" x2="349.80" y1="360.40" y2="366.40" stroke="#808080" stroke-width="1"/>
<text x="350.30" y="382.90" text-anchor="middle" class="t">-14</text>
<line x1="368.18" x2="368.18" y1="360.40" y2="363.40" stroke="#808080" stroke-width="1"/>
<line x1="386.56" x2="386.56" y1="360.40" y2="363.40" stroke="#808080" stroke-width="1"/>
<line x1="404.93" x2="404.93" y1="360.40" y2="366.40" stroke="#808080" stroke-width="1"/>
<text x="405.43" y="382.90" text-anchor="middle" class="t">-11</text>
<line x1="423.31" x2="423.31" y1="360.40" y2="363.40" stroke="#808080" stroke-width="1"/>
<line x1="441.69" x2="441.69" y1="360.40" y2="363.40" stroke="#808080" stroke-width="1"/>
<line x1="460.07" x2="460.07" y1="360.40" y2="366.40" stroke="#808080" stroke-width="1"/>
<text x="460.57" y="382.90" text-anchor="middle" class="t">-8</text>
<line x1="478.44" x2="478.44" y1="360.40" y2="363.40" stroke="#808080" stroke-width="1"/>
<line x1="496.82" x2="496.82" y1="360.40" y2="363.40" stroke="#808080" stroke-width="1"/>
<line x1="515.20" x2="515.20" y1="360.40" y2="366.40" stroke="#808080" stroke-width="1"/>
<text x="515.70" y="382.90" text-anchor="middle" class="t">-5</text>
<polyline points="349.80,242.91 350.72,242.91 351.64,242.91 352.56,242.91 353.48,242.91 354.39,242.91 355.31,242.91 356.23,242.91 357.15,242.91 358.07,242.91 358.99,242.91 359.91,242.91 360.83,242.91 361.75,242.91 362.66,242.91 363.58,242.91 364.50,242.91 365.42,242.91 366.34,242.91 367.26,242.91 368.18,242.91 369.10,242.91 370.02,242.91 370.93,242.91 371.85,242.91 372.77,242.91 373.69,242.91 374.61,242.91 375.53,242.91 376.45,242.91 377.37,242.91 378.29,242.91 379.20,242.91 380.12,242.91 381.04,242.91 381.96,242.91 382.88,242.91 383.80,242.91 384.72,242.91 385.64,242.91 386.56,242.91 387.47,242.91 388.39,242.91 389.31,242.91 390.23,242.91 391.15,242.91 392.07,242.91 392.99,242.91 393.91,242.91 394.83,242.91 395.74,242.91 396.66,242.91 397.58,242.91 398.50,242.91 399.42,242.91 400.34,242.91 401.26,242.91 402.18,242.91 403.10,242.91 404.01,242.91 404.93,242.91 405.85,242.91 406.77,242.91 407.69,242.91 408.61,242.91 409.53,242.91 410.45,242.91 411.37,242.91 412.28,242.91 413.20,242.91 414.12,242.91 415.04,242.91 415.96,242.91 416.88,242.91 417.80,242.91 418.72,242.91 419.64,242.91 420.55,242.91 421.47,242.91 422.39,242.91 423.31,242.91 424.23,242.91 425.15,242.91 426.07,242.91 426.99,242.91 427.91,242.91 428.82,242.91 429.74,242.91 430.66,242.91 431.58,242.91 432.50,242.92 433.42,242.92 434.34,242.92 435.26,242.92 436.18,242.93 437.09,242.93 438.01,242.94 438.93,242.95 439.85,242.95 440.77,242.96 441.69,242.98 442.61,242.99 443.53,243.01 444.45,243.03 445.36,243.05 446.28,243.09 447.20,243.12 448.12,243.17 449.04,243.22 449.96,243.29 450.88,243.36 451.80,243.46 452.72,243.57 453.63,243.71 454.55,243.87 455.47,244.07 456.39,244.31 457.31,244.60 458.23,244.94 459.15,245.35 460.07,245.83 460.99,246.42 461.90,247.11 462.82,247.93 463.74,248.89 464.66,250.03 465.58,251.36 466.50,252.91 467.42,254.71 468.34,256.76 469.26,259.10 470.17,261.75 471.09,264.70 472.01,267.95 472.93,271.50 473.85,275.33 474.77,279.40 475.69,283.66 476.61,288.08 477.53,292.59 478.44,297.13 479.36,301.65 480.28,306.10 481.20,310.43 482.12,314.60 483.04,318.58 483.96,322.36 484.88,325.91 485.80,329.23 486.71,332.32 487.63,335.19 488.55,337.83 489.47,340.26 490.39,342.49 491.31,344.52 492.23,346.38 493.15,348.08 494.07,349.62 494.98,351.03 495.90,352.30 496.82,353.46 497.74,354.51 498.66,355.46 499.58,356.32 500.50,357.10 501.42,357.81 502.34,358.45 503.25,359.03 504.17,359.55 505.09,360.02 506.01,360.45 506.93,360.84 507.85,361.19 508.77,361.50 509.69,361.79 510.61,362.05 511.52,362.28 512.44,362.49 513.36,362.69 514.28,362.86 515.20,363.01" fill="none" stroke="#333" stroke-width="0.9"/>
<polyline points="349.80,242.30 350.63,242.30 351.46,242.30 352.29,242.30 353.12,242.30 353.96,242.30 354.79,242.30 355.62,242.30 356.45,242.30 357.28,242.30 358.11,242.30 358.94,242.30 359.77,242.30 360.61,242.30 361.44,242.30 362.27,242.30 363.10,242.30 363.93,242.30 364.76,242.30 365.59,242.30 366.42,242.30 367.25,242.30 368.09,242.30 368.92,242.30 369.75,242.30 370.58,242.30 371.41,242.30 372.24,242.30 373.07,242.30 373.90,242.30 374.73,242.30 375.57,242.30 376.40,242.30 377.23,242.30 378.06,242.30 378.89,242.30 379.72,242.30 380.55,242.30 381.38,242.30 382.22,242.30 383.05,242.30 383.88,242.30 384.71,242.30 385.54,242.31 386.37,242.31 387.20,242.31 388.03,242.31 388.86,242.31 389.70,242.32 390.53,242.32 391.36,242.32 392.19,242.33 393.02,242.33 393.85,242.34 394.68,242.34 395.51,242.34 396.34,242.35 397.18,242.35 398.01,242.36 398.84,242.37 399.67,242.37 400.50,242.38 401.33,242.38 402.16,242.39 402.99,242.40 403.83,242.41 404.66,242.41 405.49,242.42 406.32,242.43 407.15,242.44 407.98,242.45 408.81,242.45 409.64,242.46 410.47,242.47 411.31,242.48 412.14,242.49 412.97,242.50 413.80,242.51 414.63,242.52 415.46,242.54 416.29,242.55 417.12,242.56 417.95,242.57 418.79,242.58 419.62,242.59 420.45,242.61 421.28,242.63 422.11,242.66 422.94,242.69 423.77,242.73 424.60,242.78 425.44,242.84 426.27,242.89 427.10,242.96 427.93,243.03 428.76,243.10 429.59,243.18 430.42,243.26 431.25,243.34 432.08,243.43 432.92,243.52 433.75,243.61 434.58,243.70 435.41,243.79 436.24,243.88 437.07,243.98 437.90,244.07 438.73,244.16 439.56,244.25 440.40,244.34 441.23,244.43 442.06,244.52 442.89,244.61 443.72,244.70 444.55,244.80 445.38,244.90 446.21,245.00 447.05,245.11 447.88,245.23 448.71,245.35 449.54,245.49 450.37,245.63 451.20,245.79 452.03,245.95 452.86,246.14 453.69,246.35 454.53,246.59 455.36,246.87 456.19,247.18 457.02,247.53 457.85,247.92 458.68,248.34 459.51,248.81 460.34,249.32 461.17,249.86 462.01,250.46 462.84,251.13 463.67,251.98 464.50,253.01 465.33,254.20 466.16,255.55 466.99,257.06 467.82,258.72 468.66,260.53 469.49,262.76 470.32,265.58 471.15,268.85 471.98,272.46 472.81,276.29 473.64,280.30 474.47,284.98 475.30,290.11 476.14,295.30 476.97,300.32 477.80,305.51 478.63,310.61 479.46,315.28 480.29,319.38 481.12,323.29 481.95,326.97 482.78,330.37 483.62,333.44 484.45,336.14 485.28,338.60 486.11,340.93 486.94,343.11 487.77,345.14 488.60,347.00 489.43,348.65 490.27,350.09 491.10,351.32 491.93,352.44 492.76,353.51 493.59,354.52 494.42,355.47 495.25,356.35 496.08,357.16 496.91,357.91 497.75,358.58 498.58,359.19 499.41,359.72 500.24,360.17 501.07,360.57 501.90,360.95 502.73,361.31 503.56,361.63 504.39,361.93 505.23,362.20 506.06,362.42 506.89,362.61 507.72,362.76 508.55,362.87 509.38,362.98 510.21,363.08 511.04,363.17 511.88,363.24 512.71,363.31 513.54,363.36 514.37,363.39 515.20,363.40" fill="none" stroke="#333" stroke-width="0.9"/>
<path d="M349.80 237.54V247.54M347.80 237.54h4M347.80 247.54h4" stroke="#888" stroke-width="0.8" fill="none"/>
<path d="M368.18 240.21V250.21M366.18 240.21h4M366.18 250.21h4" stroke="#888" stroke-width="0.8" fill="none"/>
<path d="M386.56 240.21V250.21M384.56 240.21h4M384.56 250.21h4" stroke="#888" stroke-width="0.8" fill="none"/>
<path d="M399.24 236.45V246.45M397.24 236.45h4M397.24 246.45h4" stroke="#888" stroke-width="0.8" fill="none"/>
<path d="M411.92 236.45V246.45M409.92 236.45h4M409.92 246.45h4" stroke="#888" stroke-width="0.8" fill="none"/>
<path d="M424.97 236.45V246.45M422.97 236.45h4M422.97 246.45h4" stroke="#888" stroke-width="0.8" fill="none"/>
<path d="M437.28 239.84V249.84M435.28 239.84h4M435.28 249.84h4" stroke="#888" stroke-width="0.8" fill="none"/>
<path d="M450.51 238.78V246.78M448.51 238.78h4M448.51 246.78h4" stroke="#888" stroke-width="0.8" fill="none"/>
<path d="M463.56 244.72V252.72M461.56 244.72h4M461.56 252.72h4" stroke="#888" stroke-width="0.8" fill="none"/>
<path d="M358.81 236.45V246.45M356.81 236.45h4M356.81 246.45h4" stroke="#888" stroke-width="0.8" fill="none"/>
<path d="M377.18 233.79V243.79M375.18 233.79h4M375.18 243.79h4" stroke="#888" stroke-width="0.8" fill="none"/>
<path d="M395.19 237.54V247.54M393.19 237.54h4M393.19 247.54h4" stroke="#888" stroke-width="0.8" fill="none"/>
<path d="M404.93 237.54V247.54M402.93 237.54h4M402.93 247.54h4" stroke="#888" stroke-width="0.8" fill="none"/>
<path d="M423.13 233.79V243.79M421.13 233.79h4M421.13 243.79h4" stroke="#888" stroke-width="0.8" fill="none"/>
<path d="M441.32 243.72V253.72M439.32 243.72h4M439.32 253.72h4" stroke="#888" stroke-width="0.8" fill="none"/>
<path d="M459.70 242.18V250.18M457.70 242.18h4M457.70 250.18h4" stroke="#888" stroke-width="0.8" fill="none"/>
<circle cx="349.80" cy="242.54" r="2.65" fill="#000"/>
<circle cx="368.18" cy="245.21" r="2.65" fill="#000"/>
<circle cx="386.56" cy="245.21" r="2.65" fill="#000"/>
<circle cx="399.24" cy="241.45" r="2.65" fill="#000"/>
<circle cx="411.92" cy="241.45" r="2.65" fill="#000"/>
<circle cx="424.97" cy="241.45" r="2.65" fill="#000"/>
<circle cx="437.28" cy="244.84" r="2.65" fill="#000"/>
<circle cx="450.51" cy="242.78" r="2.65" fill="#000"/>
<circle cx="463.56" cy="248.72" r="2.65" fill="#000"/>
<circle cx="476.42" cy="295.71" r="2.65" fill="#000"/>
<circle cx="489.10" cy="338.45" r="2.65" fill="#000"/>
<circle cx="501.97" cy="359.65" r="2.65" fill="#000"/>
<circle cx="515.20" cy="363.40" r="2.65" fill="#000"/>
<rect x="356.71" y="239.35" width="4.2" height="4.2" fill="#fff" stroke="#000" stroke-width="1.4"/>
<rect x="375.08" y="236.69" width="4.2" height="4.2" fill="#fff" stroke="#000" stroke-width="1.4"/>
<rect x="393.09" y="240.44" width="4.2" height="4.2" fill="#fff" stroke="#000" stroke-width="1.4"/>
<rect x="402.83" y="240.44" width="4.2" height="4.2" fill="#fff" stroke="#000" stroke-width="1.4"/>
<rect x="421.03" y="236.69" width="4.2" height="4.2" fill="#fff" stroke="#000" stroke-width="1.4"/>
<rect x="439.22" y="246.62" width="4.2" height="4.2" fill="#fff" stroke="#000" stroke-width="1.4"/>
<rect x="457.60" y="244.08" width="4.2" height="4.2" fill="#fff" stroke="#000" stroke-width="1.4"/>
<rect x="475.98" y="297.36" width="4.2" height="4.2" fill="#fff" stroke="#000" stroke-width="1.4"/>
<rect x="494.17" y="355.37" width="4.2" height="4.2" fill="#fff" stroke="#000" stroke-width="1.4"/>
<rect x="513.10" y="361.30" width="4.2" height="4.2" fill="#fff" stroke="#000" stroke-width="1.4"/>
<text x="269.20" y="228.50" class="L">D</text>
<text x="367.90" y="346.90" class="s">E4-C10</text>
<text x="432.50" y="405.40" text-anchor="middle" class="b">log Competitor [M]</text>
<text transform="translate(314.40,297.15) rotate(-90)" text-anchor="middle" class="yt">% Binding of <tspan class="sup" dy="-6.5">125</tspan><tspan dy="6.5">I-RAP</tspan></text>
</svg>
</body></html>
